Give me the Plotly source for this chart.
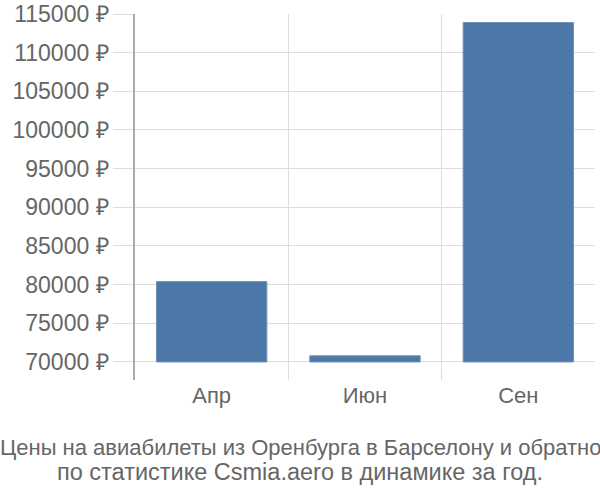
import plotly.graph_objects as go

categories = ["Апр", "Июн", "Сен"]
prices = [80400, 70800, 113900]
base_value = 70000
tick_values = [70000, 75000, 80000, 85000, 90000, 95000, 100000, 105000, 110000, 115000]
tick_labels = [f"{v} ₽" for v in tick_values]
title_lines = ["Цены на авиабилеты из Оренбурга в Барселону и обратно",
               "по статистике Csmia.aero в динамике за год."]

fig = go.Figure()
fig.add_trace(go.Bar(
    x=categories,
    y=[p - base_value for p in prices],
    base=base_value,
    width=0.72,
    marker=dict(color="#4c78a8", line=dict(color="#6f93bd", width=1)),
    hoverinfo="skip",
))

plot_top, plot_bottom = 14, 380
plot_h = plot_bottom - plot_top

annotations = []
for line, ypix, size in zip(title_lines, [447, 472], [22, 23.5]):
    annotations.append(dict(
        text=line, xref="paper", yref="paper",
        x=(300 - 135) / 460, y=(plot_bottom - ypix) / plot_h,
        xanchor="center", yanchor="middle", showarrow=False,
        font=dict(size=size, color="#666666"),
    ))

fig.update_layout(
    width=600, height=500,
    margin=dict(l=135, r=5, t=14, b=120, autoexpand=False),
    paper_bgcolor="white", plot_bgcolor="white",
    font=dict(family="Liberation Sans, Arial, sans-serif", size=22, color="#666666"),
    showlegend=False,
    xaxis=dict(
        type="category",
        tickson="boundaries",
        showgrid=True, gridcolor="#dddddd", gridwidth=1,
        ticks="", showline=False, zeroline=False,
        tickfont=dict(size=22, color="#666666"),
        range=[-0.5, 2.5],
        automargin=False,
    ),
    yaxis=dict(
        range=[67670, 115000],
        tickvals=tick_values, ticktext=tick_labels,
        showgrid=True, gridcolor="#dddddd", gridwidth=1,
        ticks="outside", ticklen=20, tickcolor="#dddddd", tickwidth=1,
        showline=True, linecolor="#aaaaaa", linewidth=1.5,
        zeroline=False,
        tickfont=dict(size=23, color="#666666"),
        automargin=False,
    ),
    annotations=annotations,
)

fig.write_html("out.html", config={"displayModeBar": False},
               post_script="document.body.style.margin='0';")
